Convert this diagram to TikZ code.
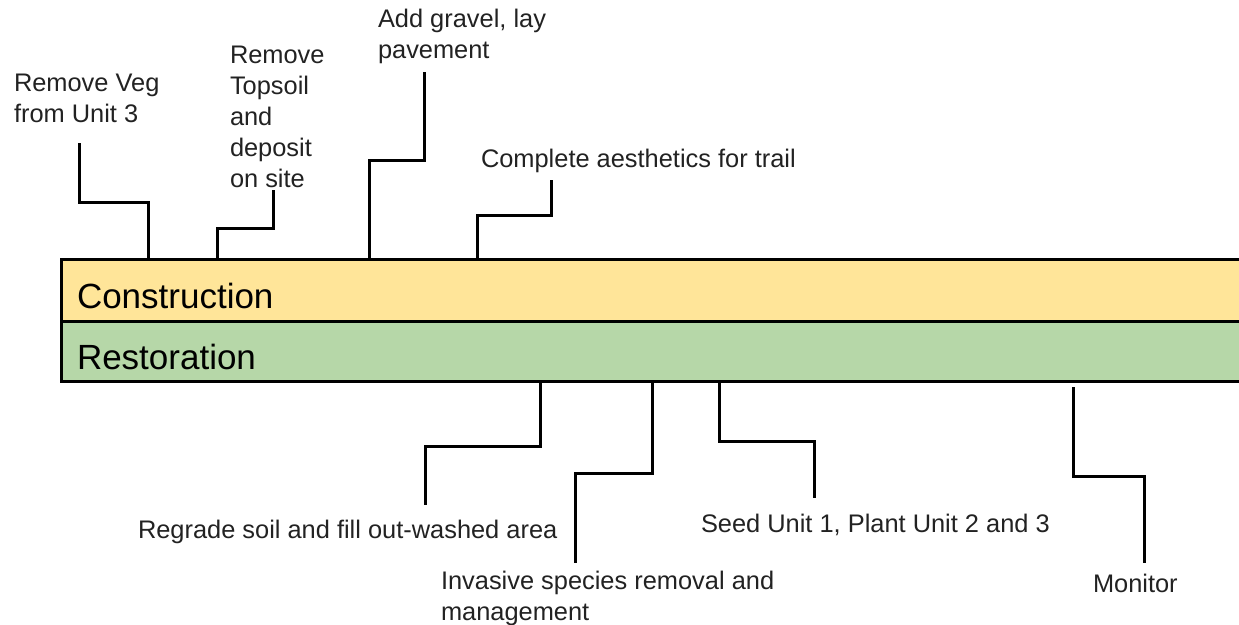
\documentclass[tikz,border=0pt]{standalone}
\usepackage{fontspec}
\setmainfont{Liberation Sans}
\definecolor{conyellow}{HTML}{FFE599}
\definecolor{resgreen}{HTML}{B6D7A8}
\definecolor{txt}{HTML}{222222}
\begin{document}
\begin{tikzpicture}[x=1pt,y=-1pt,
  lbl/.style={anchor=north west,inner sep=0pt,outer sep=0pt,align=left,text=txt,font=\fontsize{25.4}{31}\selectfont},
  bigtxt/.style={anchor=base west,inner sep=0pt,outer sep=0pt,text=black,font=\fontsize{35}{40}\selectfont},
  bar/.style={draw=black,line width=3pt,anchor=north west,minimum width=1300pt,inner sep=0pt,outer sep=0pt},
  conn/.style={draw=black,line width=3pt}]
\useasboundingbox (0,0) rectangle (1239,624);
\begin{scope}
\clip (0,0) rectangle (1239,624);
\node[bar,fill=conyellow,minimum height=62pt] (con) at (61,259) {};
\node[bar,fill=resgreen,minimum height=60pt] (res) at (61,321) {};
\end{scope}
\node[bigtxt] (contxt) at (77,308) {Construction};
\node[bigtxt] (restxt) at (77,369) {Restoration};
% top labels
\node[lbl] (veg) at (14,74) {Remove Veg\\from Unit 3};
\node[lbl] (topsoil) at (230,46) {Remove\\Topsoil\\and\\deposit\\on site};
\node[lbl] (gravel) at (378,9) {Add gravel, lay\\pavement};
\node[lbl] (aesth) at (481,149) {Complete aesthetics for trail};
% bottom labels
\node[lbl] (regrade) at (138,520) {Regrade soil and fill out-washed area};
\node[lbl] (invasive) at (441,571) {Invasive species removal and\\management};
\node[lbl] (seed) at (701,514) {Seed Unit 1, Plant Unit 2 and 3};
\node[lbl] (monitor) at (1093,574) {Monitor};
% free ends
\coordinate (e1) at (79,143);
\coordinate (e2) at (273,190);
\coordinate (e3) at (424,72);
\coordinate (e4) at (551,180);
\coordinate (e5) at (425,505);
\coordinate (e6) at (575,563);
\coordinate (e7) at (814,498);
\coordinate (e8) at (1144,563);
% connectors
\draw[conn] (con.north -| 148,0) -- ++(0,-57) -| (e1);
\draw[conn] (con.north -| 217,0) -- ++(0,-31) -| (e2);
\draw[conn] (con.north -| 369,0) -- ++(0,-99) -| (e3);
\draw[conn] (con.north -| 477,0) -- ++(0,-44) -| (e4);
\draw[conn] (res.south -| 540,0) -- ++(0,65) -| (e5);
\draw[conn] (res.south -| 652,0) -- ++(0,92) -| (e6);
\draw[conn] (res.south -| 719,0) -- ++(0,60) -| (e7);
\draw[conn] (res.south -| 1073,0) ++(0,6) -- ++(0,89) -| (e8);
\end{tikzpicture}
\end{document}
